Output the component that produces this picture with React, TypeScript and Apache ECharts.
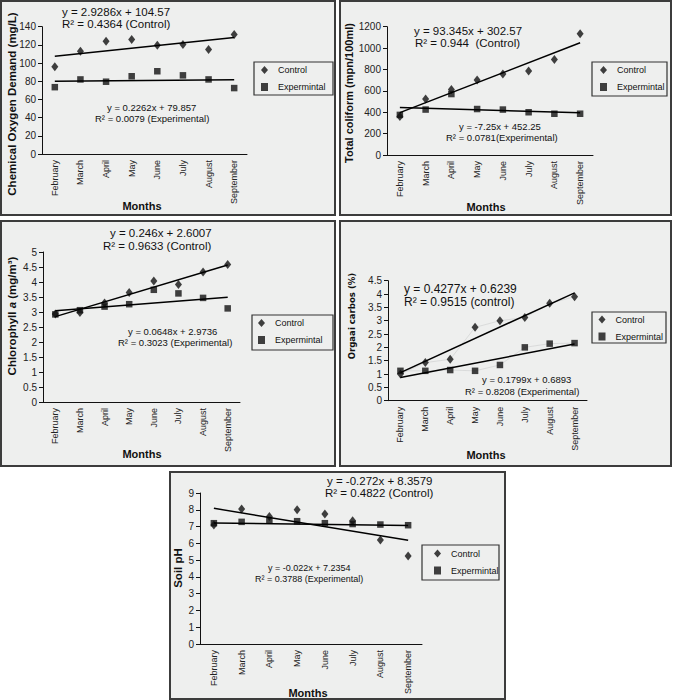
import React, { useEffect, useRef } from "react";
import * as echarts from "echarts";

const months = ["February", "March", "April", "May", "June", "July", "August", "September"];

const codControl = [96, 113, 124, 126, 119.5, 120.5, 115, 131.5];
const codExp = [73.5, 82, 79.5, 85.5, 91, 86.5, 82, 72.5];
const codTrendControl = [2.9286, 104.57];
const codTrendExp = [0.2262, 79.857];

const coliControl = [360, 524, 612, 701, 757, 785, 893, 1135];
const coliExp = [375, 425, 570, 430, 425, 400, 386, 386];
const coliTrendControl = [93.345, 302.57];
const coliTrendExp = [-7.25, 452.25];

const chlControl = [2.93, 2.98, 3.3, 3.65, 4.03, 3.92, 4.33, 4.58];
const chlExp = [2.92, 3.06, 3.18, 3.26, 3.74, 3.62, 3.47, 3.12];
const chlTrendControl = [0.246, 2.6007];
const chlTrendExp = [0.0648, 2.9736];

const ocControl = [1.0, 1.43, 1.55, 2.75, 3.0, 3.12, 3.65, 3.9];
const ocExp = [1.12, 1.12, 1.15, 1.12, 1.34, 2.0, 2.14, 2.16];
const ocTrendControl = [0.4277, 0.6239];
const ocTrendExp = [0.1799, 0.6893];

const phControl = [7.1, 8.05, 7.6, 8.0, 7.75, 7.35, 6.2, 5.25];
const phExp = [7.2, 7.28, 7.35, 7.32, 7.2, 7.15, 7.12, 7.08];
const phTrendControl = [-0.272, 8.3579];
const phTrendExp = [-0.022, 7.2354];

const FONT = "Liberation Sans, Arial, sans-serif";

type Panel = {
  control: number[];
  exp: number[];
  tc: number[];
  te: number[];
  max: number;
  interval: number;
  grid: { left: number; top: number; width: number; height: number };
  legend: { left: number; top: number };
  legendBox: number[];
  box: number[];
  months: number[];
  faint?: boolean;
};

const panels: Panel[] = [
  { control: codControl, exp: codExp, tc: codTrendControl, te: codTrendExp, max: 140, interval: 20,
    grid: { left: 42, top: 26.7, width: 205, height: 127.3 }, legend: { left: 261, top: 65.5 },
    legendBox: [254, 62, 79, 33], box: [1, 1, 334, 214], months: [142, 206] },
  { control: coliControl, exp: coliExp, tc: coliTrendControl, te: coliTrendExp, max: 1200, interval: 200,
    grid: { left: 387, top: 26.7, width: 206, height: 128.3 }, legend: { left: 600, top: 65.5 },
    legendBox: [592, 62, 75, 34], box: [340, 1, 331, 214], months: [486, 207] },
  { control: chlControl, exp: chlExp, tc: chlTrendControl, te: chlTrendExp, max: 5, interval: 0.5,
    grid: { left: 43, top: 252, width: 197, height: 150 }, legend: { left: 258, top: 318.5 },
    legendBox: [252, 315, 81, 35], box: [1, 221, 334, 245], months: [142, 454] },
  { control: ocControl, exp: ocExp, tc: ocTrendControl, te: ocTrendExp, max: 4.5, interval: 0.5,
    grid: { left: 388, top: 280.7, width: 199, height: 120 }, legend: { left: 598.5, top: 315 },
    legendBox: [592, 312, 74, 31], box: [340, 221, 331, 245], months: [486, 455], faint: true },
  { control: phControl, exp: phExp, tc: phTrendControl, te: phTrendExp, max: 9, interval: 1,
    grid: { left: 200, top: 493, width: 222, height: 151 }, legend: { left: 434, top: 549 },
    legendBox: [422, 545, 77, 35], box: [170, 472, 335, 227], months: [308, 693] },
];

const eqTexts: [string, number, number, number][] = [
  ["y = 2.9286x + 104.57", 62, 11.5, 11.5],
  ["R² = 0.4364 (Control)", 62, 23.5, 11.5],
  ["y = 0.2262x + 79.857", 107, 107.5, 9.5],
  ["R² = 0.0079 (Experimental)", 95, 118, 9.5],
  ["y = 93.345x + 302.57", 414, 30.5, 11.5],
  ["R² = 0.944  (Control)", 415, 42.5, 11.5],
  ["y = -7.25x + 452.25", 459, 126.5, 9.5],
  ["R² = 0.0781(Experimental)", 446, 137, 9.5],
  ["y = 0.246x + 2.6007", 110, 232.5, 11.5],
  ["R² = 0.9633 (Control)", 103, 245.5, 11.5],
  ["y = 0.0648x + 2.9736", 128, 331.5, 9.5],
  ["R² = 0.3023 (Experimental)", 118, 342, 9.5],
  ["y = 0.4277x + 0.6239", 404, 288.5, 12],
  ["R² = 0.9515 (control)", 404, 302, 12],
  ["y = 0.1799x + 0.6893", 482, 379.5, 9.5],
  ["R² = 0.8208 (Experimental)", 465, 391, 9.5],
  ["y = -0.272x + 8.3579", 327, 480.5, 11.5],
  ["R² = 0.4822 (Control)", 325, 493, 11.5],
  ["y = -0.022x + 7.2354", 268, 568, 9],
  ["R² = 0.3788 (Experimental)", 255, 579, 9],
];

function trendLine(t: number[]) {
  return [[
    { coord: [months[0], t[0] * 1 + t[1]], symbol: "none" },
    { coord: [months[7], t[0] * 8 + t[1]], symbol: "none" },
  ]];
}

export default function App() {
  const ref = useRef<HTMLDivElement>(null);
  useEffect(() => {
    const chart = echarts.init(ref.current!, null, { renderer: "svg" });
    const grids: any[] = [];
    const xAxes: any[] = [];
    const yAxes: any[] = [];
    const series: any[] = [];
    const legends: any[] = [];
    const graphics: any[] = [];

    panels.forEach((p, i) => {
      graphics.push({
        type: "rect", z: -10, silent: true,
        shape: { x: p.box[0], y: p.box[1], width: p.box[2], height: p.box[3] },
        style: { fill: "#eeefee", stroke: "#3c3c3c", lineWidth: 2 },
      });
      graphics.push({
        type: "rect", z: -5, silent: true,
        shape: { x: p.legendBox[0], y: p.legendBox[1], width: p.legendBox[2], height: p.legendBox[3] },
        style: { fill: "#eeefee", stroke: "#333", lineWidth: 1.2 },
      });
      graphics.push({
        type: "text", silent: true, x: p.months[0], y: p.months[1],
        style: { text: "Months", font: `bold 11px ${FONT}`, fill: "#111", align: "center", verticalAlign: "middle" },
      });
      grids.push({ ...p.grid });
      xAxes.push({
        type: "category", gridIndex: i, data: months, boundaryGap: true,
        axisLine: { lineStyle: { color: "#111", width: 1 } },
        axisTick: { length: 4, lineStyle: { color: "#111" } },
        axisLabel: { rotate: 90, fontSize: 9, fontFamily: FONT, color: "#222", margin: 6, interval: 0 },
        splitLine: { show: false },
      });
      yAxes.push({
        type: "value", gridIndex: i, min: 0, max: p.max, interval: p.interval,
        axisLine: { show: true, lineStyle: { color: "#111", width: 1 } },
        axisTick: { show: true, length: 4, lineStyle: { color: "#111" } },
        axisLabel: { fontSize: 10, fontFamily: FONT, color: "#222", margin: 6, formatter: (v: number) => String(v) },
        splitLine: { show: false },
      });
      const lineStyle = { color: "#000", width: 1.5, type: "solid" };
      series.push({
        name: "Control", type: "scatter", xAxisIndex: i, yAxisIndex: i, data: p.control,
        symbol: "diamond", symbolSize: [7, 9], itemStyle: { color: "#111" },
        markLine: { silent: true, symbol: ["none", "none"], label: { show: false }, lineStyle, data: trendLine(p.tc) },
      });
      series.push({
        name: "Expermintal", type: "scatter", xAxisIndex: i, yAxisIndex: i, data: p.exp,
        symbol: "rect", symbolSize: 6.5, itemStyle: { color: "#111" },
        markLine: { silent: true, symbol: ["none", "none"], label: { show: false }, lineStyle, data: trendLine(p.te) },
      });
      if (p.faint) {
        [p.control, p.exp].forEach((d, k) => {
          series.push({
            name: "faint" + k, type: "line", xAxisIndex: i, yAxisIndex: i, data: d, z: 1,
            symbol: "none", silent: true, lineStyle: { color: "#d4d6d5", width: 0.8 },
          });
        });
      }
      legends.push({
        orient: "vertical", left: p.legend.left, top: p.legend.top, padding: 0,
        itemWidth: 7, itemHeight: 8, itemGap: 8, selectedMode: false,
        formatter: "  {name}",
        textStyle: { fontSize: 9, fontFamily: FONT, color: "#111" },
        data: [
          { name: "Control", icon: "diamond", itemStyle: { color: "#111" } },
          { name: "Expermintal", icon: "rect", itemStyle: { color: "#111" } },
        ],
      });
    });

    eqTexts.forEach(([t, x, y, fs]) => {
      graphics.push({
        type: "text", silent: true, x, y,
        style: { text: t, font: `${fs}px ${FONT}`, fill: "#111", align: "left", verticalAlign: "middle" },
      });
    });

    const yTitle = (text: string, x: number, y: number, font: string) => ({
      type: "text", silent: true, x, y, rotation: Math.PI / 2,
      style: { text, font, fill: "#111", align: "center", verticalAlign: "middle" },
    });
    graphics.push(yTitle("Chemical Oxygen Demand (mg/L)", 12, 104, `bold 11.5px ${FONT}`));
    graphics.push(yTitle("Total coliform (mpn/100ml)", 349, 93, `bold 11px ${FONT}`));
    graphics.push({
      type: "text", silent: true, x: 12, y: 316, rotation: Math.PI / 2,
      style: {
        text: "{b|Chlorophyll }{i|a}{b| (mg/m³)}", fill: "#111", align: "center", verticalAlign: "middle",
        rich: {
          b: { font: `bold 11.5px ${FONT}`, fill: "#111" },
          i: { font: `italic bold 11.5px ${FONT}`, fill: "#111" },
        },
      },
    });
    graphics.push(yTitle("Orgaai carbos (%)", 351, 316, `bold 9.5px "Liberation Sans Narrow", "DejaVu Sans Condensed", ${FONT}`));
    graphics.push(yTitle("Soil pH", 178, 568, `bold 11.5px ${FONT}`));

    chart.setOption({
      animation: false,
      backgroundColor: "#ffffff",
      grid: grids,
      xAxis: xAxes,
      yAxis: yAxes,
      legend: legends,
      series,
      graphic: { elements: graphics },
    });
    return () => chart.dispose();
  }, []);
  return <div ref={ref} style={{ position: "absolute", left: 0, top: 0, width: 673, height: 700 }} />;
}
